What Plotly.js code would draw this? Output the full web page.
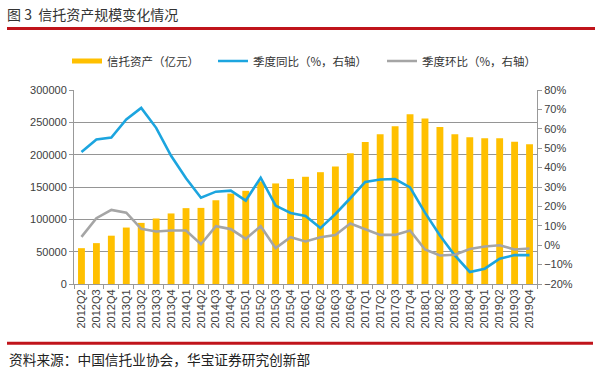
<!DOCTYPE html>
<html>
<head>
<meta charset="utf-8">
<script src="https://cdn.plot.ly/plotly-3.0.1.min.js"></script>
<style>html,body{margin:0;padding:0;background:#fff}#chart{width:600px;height:369px}</style>
</head>
<body>
<div id="chart"></div>
<script>
const quarters = ['2012Q2','2012Q3','2012Q4',
  '2013Q1','2013Q2','2013Q3','2013Q4',
  '2014Q1','2014Q2','2014Q3','2014Q4',
  '2015Q1','2015Q2','2015Q3','2015Q4',
  '2016Q1','2016Q2','2016Q3','2016Q4',
  '2017Q1','2017Q2','2017Q3','2017Q4',
  '2018Q1','2018Q2','2018Q3','2018Q4',
  '2019Q1','2019Q2','2019Q3','2019Q4'];
const assets = [55400, 63200, 74700,
  87300, 94500, 101300, 109100,
  117300, 117700, 129500, 139800,
  144100, 158700, 155500, 162500,
  165800, 172900, 181700, 202200,
  219400, 231400, 244100, 262500,
  256100, 242700, 231400, 227000,
  225300, 225300, 219900, 216000];
const yoy = [48.0, 54.5, 55.5,
  64.8, 70.8, 60.5, 46.1,
  34.5, 24.5, 27.6, 28.1,
  23.0, 34.8, 20.4, 16.6,
  15.1, 8.8, 16.1, 24.2,
  32.6, 33.9, 34.1, 29.8,
  16.8, 5.0, -5.3, -13.8,
  -12.1, -7.0, -5.1, -5.1];
const qoq = [4.3, 13.9, 18.2,
  16.8, 8.4, 7.1, 7.6,
  7.6, 0.5, 9.8, 8.3,
  3.3, 9.8, -1.5, 4.1,
  1.9, 4.1, 5.3, 11.2,
  8.4, 5.3, 5.3, 7.6,
  -2.2, -5.3, -4.9, -2.0,
  -0.7, 0.0, -2.2, -1.7];
const names = ['信托资产（亿元）', '季度同比（%，右轴）', '季度环比（%，右轴）'];
const titleText = '图 3  信托资产规模变化情况';
const sourceText = '资料来源：中国信托业协会，华宝证券研究创新部';

const W = 600, H = 369;
const M = {l: 74, r: 63, t: 90, b: 85};
const PW = W - M.l - M.r, PH = H - M.t - M.b;
const px = x => (x - M.l) / PW;
const py = y => (H - M.b - y) / PH;

const CJK = '"Noto Sans CJK SC", "Liberation Sans", sans-serif';
const NUM = '"Liberation Sans", Arial, sans-serif';
const ORANGE = '#FFC000', BLUE = '#1CA5DF', GRAY = '#A5A5A5', RED = '#C0141B';

const traces = [
  {type: 'bar', x: quarters, y: assets, marker: {color: ORANGE}, showlegend: false, hoverinfo: 'skip'},
  {type: 'scatter', mode: 'lines', x: quarters, y: yoy, yaxis: 'y2', name: names[1],
   line: {color: BLUE, width: 2.6}, legend: 'legend2'},
  {type: 'scatter', mode: 'lines', x: quarters, y: qoq, yaxis: 'y2', name: names[2],
   line: {color: GRAY, width: 2.6}, legend: 'legend3'},
  {type: 'scatter', mode: 'lines', x: [null], y: [null], name: names[0],
   line: {color: ORANGE, width: 5}, legend: 'legend'}
];

const legBase = {xref: 'container', yref: 'container', y: 1 - 61 / H, yanchor: 'middle',
  xanchor: 'left', orientation: 'h', bgcolor: 'rgba(0,0,0,0)', itemwidth: 30,
  font: {family: CJK, size: 11.5, color: '#333'}};

const layout = {
  width: W, height: H,
  margin: M,
  paper_bgcolor: '#fff', plot_bgcolor: '#fff',
  font: {family: NUM, size: 11, color: '#404040'},
  title: {text: titleText, x: 7 / W, xref: 'container', xanchor: 'left',
    y: 1 - 15 / H, yref: 'container', yanchor: 'middle',
    font: {family: CJK, size: 14, color: '#333'}},
  bargap: 0.54,
  xaxis: {type: 'category', tickangle: -90, ticks: 'outside', tickson: 'boundaries',
    ticklen: 4, tickcolor: '#999', showline: true, linecolor: '#999', linewidth: 1,
    showgrid: false, tickfont: {family: NUM, size: 11, color: '#404040'}},
  yaxis: {range: [0, 300000], dtick: 50000, tickformat: 'd', ticks: 'outside', ticklen: 4,
    tickcolor: '#999', showline: true, linecolor: '#999', showgrid: true,
    gridcolor: '#959595', gridwidth: 1, zeroline: false,
    tickfont: {family: NUM, size: 11, color: '#404040'}},
  yaxis2: {overlaying: 'y', side: 'right', range: [-20, 80], dtick: 10, ticksuffix: '%',
    ticks: 'outside', ticklen: 4, tickcolor: '#999', showline: true, linecolor: '#999',
    showgrid: false, zeroline: false,
    tickfont: {family: NUM, size: 11, color: '#404040'}},
  legend: Object.assign({}, legBase, {x: 67 / W}),
  legend2: Object.assign({}, legBase, {x: 213 / W}),
  legend3: Object.assign({}, legBase, {x: 382 / W}),
  shapes: [
    {type: 'line', xref: 'paper', yref: 'paper', x0: px(7), x1: px(595), y0: py(28.5), y1: py(28.5),
     line: {color: RED, width: 3}},
    {type: 'line', xref: 'paper', yref: 'paper', x0: px(7), x1: px(593), y0: py(343.3), y1: py(343.3),
     line: {color: RED, width: 3}}
  ],
  annotations: [
    {text: sourceText, xref: 'paper', yref: 'paper', x: px(7), y: py(359), xanchor: 'left',
     yanchor: 'middle', showarrow: false, font: {family: CJK, size: 13.7, color: '#222'}}
  ]
};

Plotly.newPlot('chart', traces, layout, {displayModeBar: false, staticPlot: true});
</script>
</body>
</html>
